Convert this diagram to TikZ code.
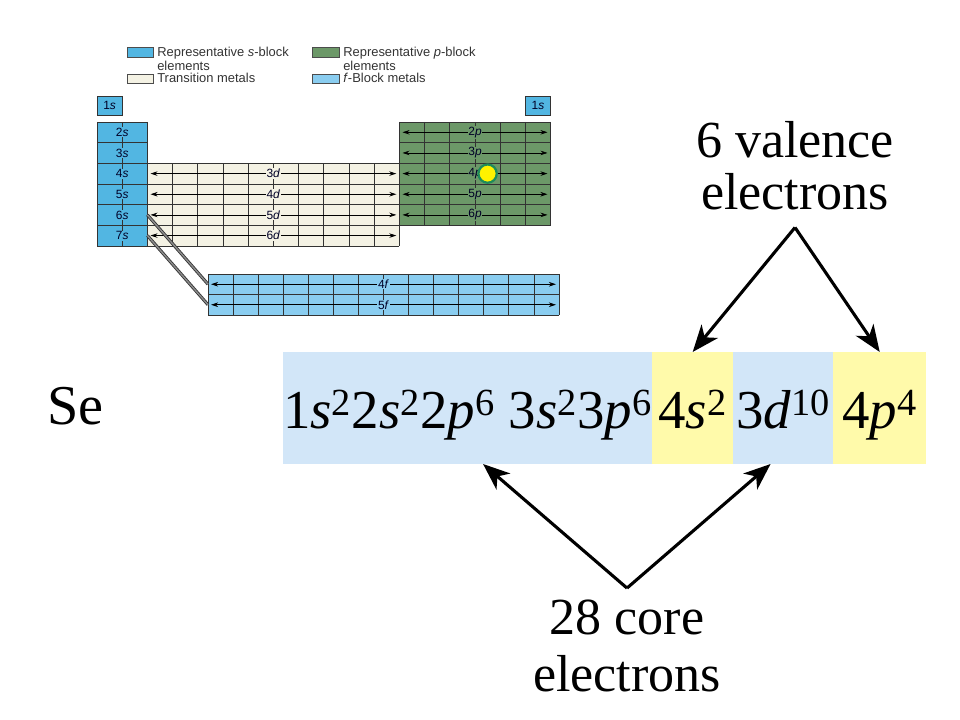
\documentclass[tikz,border=0pt]{standalone}
\usepackage{fontspec}
\setmainfont{Liberation Serif}
\setsansfont{Liberation Sans}
\usetikzlibrary{arrows.meta,positioning}

\definecolor{sblue}{HTML}{52B6E2}
\definecolor{dcream}{HTML}{F4F2E4}
\definecolor{pgreen}{HTML}{6C9868}
\definecolor{fblue}{HTML}{8ACDF0}
\definecolor{bandblue}{HTML}{D2E6F8}
\definecolor{bandyellow}{HTML}{FFFAAA}
\definecolor{dotgreen}{HTML}{1E8C5A}

\tikzset{
  cellline/.style={draw=black!80, line width=0.5pt},
  rowarrow/.style={{Stealth[length=5pt,width=3.2pt]}-{Stealth[length=5pt,width=3.2pt]}, line width=0.5pt},
  blocklabel/.style={font=\sffamily\fontsize{8.5}{8.5}\selectfont, text=black!85!blue, inner sep=0.6pt},
  legendtext/.style={font=\sffamily\fontsize{9.2}{7}\selectfont, text=black!80, align=left, inner sep=0pt},
  swatch/.style={draw=black!70, line width=0.4pt},
  linkline/.style={draw=black!80, double=black!45, double distance=1pt, line width=0.6pt},
  segment/.style={minimum width=#1, minimum height=2.8cm, inner sep=0pt, outer sep=0pt, text height=1.3cm, text depth=0.3cm, font=\fontsize{39}{39}\selectfont},
  bigarrow/.style={-{Stealth[length=19pt,width=15pt,inset=5.5pt]}, line width=2.2pt},
  biglabel/.style={align=center, inner xsep=0pt},
}

\begin{document}
\begin{tikzpicture}[x=0.025cm, y=-0.025cm]
  \useasboundingbox (0,0) rectangle (960,720);

  % legend
  \filldraw[swatch, fill=sblue] (127,47) rectangle (153,57);
  \node[legendtext, anchor=north west] (leg-s) at (157,47) {Representative \textit{s}-block\\elements};
  \filldraw[swatch, fill=dcream] (127,74) rectangle (153,83);
  \node[legendtext, anchor=north west] (leg-d) at (157,72.5) {Transition metals};
  \filldraw[swatch, fill=pgreen] (312,47) rectangle (339,57);
  \node[legendtext, anchor=north west] (leg-p) at (343,47) {Representative \textit{p}-block\\elements};
  \filldraw[swatch, fill=fblue] (312,74) rectangle (339,83);
  \node[legendtext, anchor=north west] (leg-f) at (343,72.5) {\textit{f}-Block metals};

  % 1s boxes
  \filldraw[cellline, fill=sblue] (97,96) rectangle (122.2,115.5);
  \node[blocklabel] (h1) at (109.6,105.75) {1\textit{s}};
  \filldraw[cellline, fill=sblue] (525.4,96) rectangle (550.6,115.5);
  \node[blocklabel] (he1) at (538,105.75) {1\textit{s}};

  % s block
  \fill[sblue] (97,122) rectangle (147.4,245.9);
  \foreach \k in {0,...,6}
    \draw[cellline] (97,122+\k*20.65) -- (147.4,122+\k*20.65);
  \draw[cellline] (97,122) -- (97,245.9) (122.2,122) -- (122.2,245.9) (147.4,122) -- (147.4,245.9);
  \foreach \n in {2,...,7}
    \node[blocklabel, fill=sblue] (s\n) at (122.2,{122+(\n-1.5)*20.65}) {\n\textit{s}};

  % d block
  \fill[dcream] (147.4,163.3) rectangle (399.4,245.9);
  \foreach \k in {0,...,10}
    \draw[cellline] (147.4+\k*25.2,163.3) -- (147.4+\k*25.2,245.9);
  \foreach \k in {0,...,4}
    \draw[cellline] (147.4,163.3+\k*20.65) -- (399.4,163.3+\k*20.65);
  \foreach \n [count=\r from 0] in {3,4,5,6} {
    \pgfmathsetmacro\yc{173.6+\r*20.65}
    \draw[rowarrow] (150.5,\yc) -- (396.3,\yc);
    \node[blocklabel, fill=dcream] (d\n) at (273.4,\yc) {\n\textit{d}};
  }

  % p block
  \fill[pgreen] (399.4,122) rectangle (550.6,225.25);
  \foreach \k in {0,...,6}
    \draw[cellline] (399.4+\k*25.2,122) -- (399.4+\k*25.2,225.25);
  \foreach \k in {0,...,5}
    \draw[cellline] (399.4,122+\k*20.65) -- (550.6,122+\k*20.65);
  \foreach \n [count=\r from 0] in {2,...,6} {
    \pgfmathsetmacro\yc{132.3+\r*20.65}
    \draw[rowarrow] (402.5,\yc) -- (547.5,\yc);
    \node[blocklabel, fill=pgreen] (p\n) at (475,\yc) {\n\textit{p}};
  }
  \node[circle, fill=yellow, draw=dotgreen, line width=1.6pt, minimum size=13pt, inner sep=0pt] (se-dot) at (487.6,173.6) {};

  % f block
  \fill[fblue] (208,274) rectangle (559,315);
  \foreach \k in {0,...,14}
    \draw[cellline] (208+\k*25.07,274) -- (208+\k*25.07,315);
  \foreach \k in {0,...,2}
    \draw[cellline] (208,274+\k*20.5) -- (559,274+\k*20.5);
  \foreach \n [count=\r from 0] in {4,5} {
    \pgfmathsetmacro\yc{284.25+\r*20.5}
    \draw[rowarrow] (211,\yc) -- (556,\yc);
    \node[blocklabel, fill=fblue] (f\n) at (383.5,\yc) {\n\textit{f}};
  }
  \draw[linkline] (147.4,214.9) -- (208,284.25);
  \draw[linkline] (147.4,235.55) -- (208,304.75);

  % electron configuration
  \node[anchor=base west, inner sep=0pt, font=\fontsize{40}{40}\selectfont] (se) at (47,425) {Se};
  \node[segment=9.225cm, fill=bandblue, anchor=west] (core) at (283,408)
    {1\textit{s}\textsuperscript{2}2\textit{s}\textsuperscript{2}2\textit{p}\textsuperscript{6} 3\textit{s}\textsuperscript{2}3\textit{p}\textsuperscript{6}};
  \node[segment=2.025cm, fill=bandyellow, right=0pt of core] (val-s) {4\textit{s}\textsuperscript{2}};
  \node[segment=2.5cm, fill=bandblue, right=0pt of val-s] (core-d) {3\textit{d}\textsuperscript{10}};
  \node[segment=2.325cm, fill=bandyellow, right=0pt of core-d] (val-p) {4\textit{p}\textsuperscript{4}};

  % labels and arrows
  \node[biglabel, inner ysep=12pt, font=\fontsize{37}{37}\selectfont] (valence) at (795,166) {6 valence\\electrons};
  \node[biglabel, inner ysep=8pt, font=\fontsize{37}{41}\selectfont] (core-lab) at (627,646) {28 core\\electrons};
  \draw[bigarrow] (valence.south) -- (val-s.north);
  \draw[bigarrow] (valence.south) -- (val-p.north);
  \draw[bigarrow] (core-lab.north) -- ([xshift=11pt]core.south);
  \draw[bigarrow] (core-lab.north) -- ([xshift=-9pt]core-d.south);
\end{tikzpicture}
\end{document}
